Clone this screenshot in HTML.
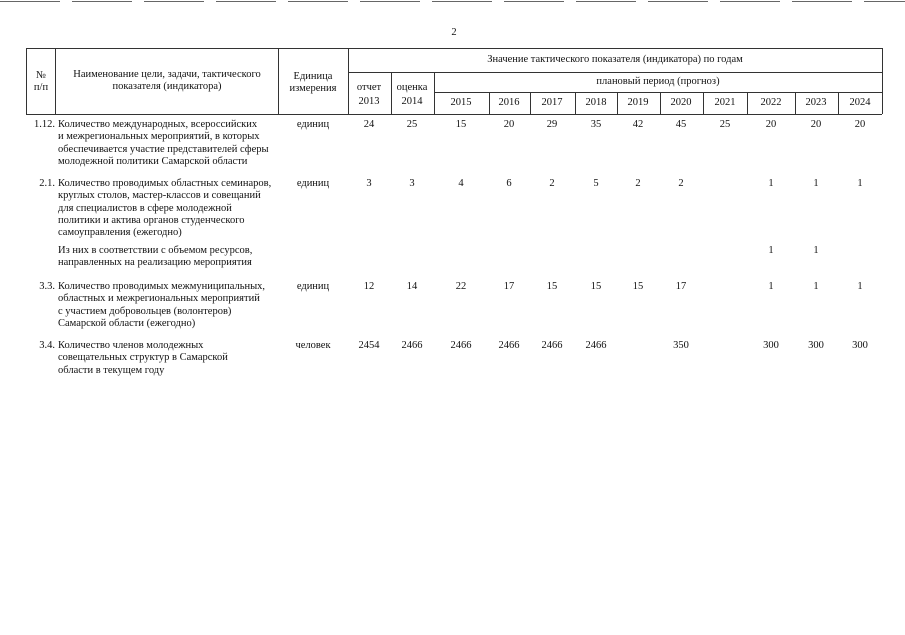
<!DOCTYPE html>
<html><head><meta charset="utf-8"><style>
html,body{margin:0;padding:0;background:#fff;}
body{width:905px;height:635px;position:relative;overflow:hidden;font-family:"Liberation Serif","Noto Serif CJK SC",serif;font-size:10.5px;color:#111;}
.t{position:absolute;white-space:nowrap;line-height:12.3px;}
.c{position:absolute;white-space:nowrap;line-height:12.3px;transform:translateX(-50%);text-align:center;}
.r{position:absolute;white-space:nowrap;line-height:12.3px;text-align:right;}
svg{position:absolute;left:0;top:0;}
</style></head><body>
<svg width="905" height="635">
<g stroke="#333" stroke-width="1" fill="none">
<line x1="0" y1="1.5" x2="905" y2="1.5" stroke="#666" stroke-dasharray="60,12"/>
<line x1="26" y1="48.5" x2="882" y2="48.5"/>
<line x1="26" y1="114.5" x2="882" y2="114.5"/>
<line x1="348" y1="72.5" x2="882" y2="72.5"/>
<line x1="434" y1="92.5" x2="882" y2="92.5"/>
<line x1="26.5" y1="48" x2="26.5" y2="114"/>
<line x1="55.5" y1="48" x2="55.5" y2="114"/>
<line x1="278.5" y1="48" x2="278.5" y2="114"/>
<line x1="348.5" y1="48" x2="348.5" y2="114"/>
<line x1="391.5" y1="72" x2="391.5" y2="114"/>
<line x1="434.5" y1="72" x2="434.5" y2="114"/>
<line x1="489.5" y1="92" x2="489.5" y2="114"/>
<line x1="530.5" y1="92" x2="530.5" y2="114"/>
<line x1="575.5" y1="92" x2="575.5" y2="114"/>
<line x1="617.5" y1="92" x2="617.5" y2="114"/>
<line x1="660.5" y1="92" x2="660.5" y2="114"/>
<line x1="703.5" y1="92" x2="703.5" y2="114"/>
<line x1="747.5" y1="92" x2="747.5" y2="114"/>
<line x1="795.5" y1="92" x2="795.5" y2="114"/>
<line x1="838.5" y1="92" x2="838.5" y2="114"/>
<line x1="882.5" y1="48" x2="882.5" y2="114"/>
</g>
</svg>
<div class="c" style="left:454px;top:27px">2</div>
<div class="c" style="left:41px;top:70px">№<br>п/п</div>
<div class="c" style="left:167px;top:69px">Наименование цели, задачи, тактического<br>показателя (индикатора)</div>
<div class="c" style="left:313px;top:71px">Единица<br>измерения</div>
<div class="c" style="left:369px;top:81px;line-height:14px">отчет<br>2013</div>
<div class="c" style="left:412px;top:81px;line-height:14px">оценка<br>2014</div>
<div class="c" style="left:615px;top:54px">Значение тактического показателя (индикатора) по годам</div>
<div class="c" style="left:658px;top:76px">плановый период (прогноз)</div>
<div class="c" style="left:461px;top:97px">2015</div>
<div class="c" style="left:509px;top:97px">2016</div>
<div class="c" style="left:552px;top:97px">2017</div>
<div class="c" style="left:596px;top:97px">2018</div>
<div class="c" style="left:638px;top:97px">2019</div>
<div class="c" style="left:681px;top:97px">2020</div>
<div class="c" style="left:725px;top:97px">2021</div>
<div class="c" style="left:771px;top:97px">2022</div>
<div class="c" style="left:816px;top:97px">2023</div>
<div class="c" style="left:860px;top:97px">2024</div>

<div class="r" style="left:0;width:55px;top:119px">1.12.</div>
<div class="t" style="left:58px;top:119px">Количество международных, всероссийских<br>и межрегиональных мероприятий, в которых<br>обеспечивается участие представителей сферы<br>молодежной политики Самарской области</div>
<div class="r" style="left:0;width:55px;top:178px">2.1.</div>
<div class="t" style="left:58px;top:178px">Количество проводимых областных семинаров,<br>круглых столов, мастер-классов и совещаний<br>для специалистов в сфере молодежной<br>политики и актива органов студенческого<br>самоуправления (ежегодно)</div>
<div class="t" style="left:58px;top:245px">Из них в соответствии с объемом ресурсов,<br>направленных на реализацию мероприятия</div>
<div class="r" style="left:0;width:55px;top:281px">3.3.</div>
<div class="t" style="left:58px;top:281px">Количество проводимых межмуниципальных,<br>областных и межрегиональных мероприятий<br>с участием добровольцев (волонтеров)<br>Самарской области (ежегодно)</div>
<div class="r" style="left:0;width:55px;top:340px">3.4.</div>
<div class="t" style="left:58px;top:340px">Количество членов молодежных<br>совещательных структур в Самарской<br>области в текущем году</div>

<div class="c" style="left:313px;top:119px">единиц</div>
<div class="c" style="left:313px;top:178px">единиц</div>
<div class="c" style="left:313px;top:281px">единиц</div>
<div class="c" style="left:313px;top:340px">человек</div>

<div class="c" style="left:369px;top:119px">24</div>
<div class="c" style="left:412px;top:119px">25</div>
<div class="c" style="left:461px;top:119px">15</div>
<div class="c" style="left:509px;top:119px">20</div>
<div class="c" style="left:552px;top:119px">29</div>
<div class="c" style="left:596px;top:119px">35</div>
<div class="c" style="left:638px;top:119px">42</div>
<div class="c" style="left:681px;top:119px">45</div>
<div class="c" style="left:725px;top:119px">25</div>
<div class="c" style="left:771px;top:119px">20</div>
<div class="c" style="left:816px;top:119px">20</div>
<div class="c" style="left:860px;top:119px">20</div>

<div class="c" style="left:369px;top:178px">3</div>
<div class="c" style="left:412px;top:178px">3</div>
<div class="c" style="left:461px;top:178px">4</div>
<div class="c" style="left:509px;top:178px">6</div>
<div class="c" style="left:552px;top:178px">2</div>
<div class="c" style="left:596px;top:178px">5</div>
<div class="c" style="left:638px;top:178px">2</div>
<div class="c" style="left:681px;top:178px">2</div>
<div class="c" style="left:771px;top:178px">1</div>
<div class="c" style="left:816px;top:178px">1</div>
<div class="c" style="left:860px;top:178px">1</div>

<div class="c" style="left:771px;top:245px">1</div>
<div class="c" style="left:816px;top:245px">1</div>

<div class="c" style="left:369px;top:281px">12</div>
<div class="c" style="left:412px;top:281px">14</div>
<div class="c" style="left:461px;top:281px">22</div>
<div class="c" style="left:509px;top:281px">17</div>
<div class="c" style="left:552px;top:281px">15</div>
<div class="c" style="left:596px;top:281px">15</div>
<div class="c" style="left:638px;top:281px">15</div>
<div class="c" style="left:681px;top:281px">17</div>
<div class="c" style="left:771px;top:281px">1</div>
<div class="c" style="left:816px;top:281px">1</div>
<div class="c" style="left:860px;top:281px">1</div>

<div class="c" style="left:369px;top:340px">2454</div>
<div class="c" style="left:412px;top:340px">2466</div>
<div class="c" style="left:461px;top:340px">2466</div>
<div class="c" style="left:509px;top:340px">2466</div>
<div class="c" style="left:552px;top:340px">2466</div>
<div class="c" style="left:596px;top:340px">2466</div>
<div class="c" style="left:681px;top:340px">350</div>
<div class="c" style="left:771px;top:340px">300</div>
<div class="c" style="left:816px;top:340px">300</div>
<div class="c" style="left:860px;top:340px">300</div>
</body></html>
